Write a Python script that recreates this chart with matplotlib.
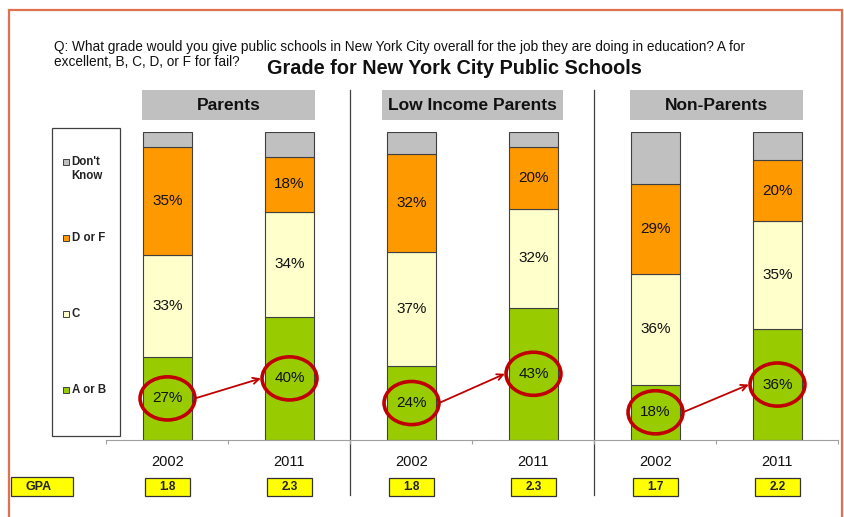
import matplotlib
matplotlib.use("Agg")
import matplotlib.pyplot as plt
from matplotlib.patches import Rectangle, Ellipse
import numpy as np

plt.rcParams['font.family'] = ['Liberation Sans', 'DejaVu Sans']

# ---- data ----
groups = ["Parents", "Low Income Parents", "Non-Parents"]
years = ["2002", "2011", "2002", "2011", "2002", "2011"]
a_or_b = [27, 40, 24, 43, 18, 36]
c_grade = [33, 34, 37, 32, 36, 35]
d_or_f = [35, 18, 32, 20, 29, 20]
dont_know = [5, 8, 7, 5, 17, 9]
gpa = ["1.8", "2.3", "1.8", "2.3", "1.7", "2.2"]
legend_labels = ["Don't\nKnow", "D or F", "C", "A or B"]

question_lines = ["Q: What grade would you give public schools in New York City overall for the job they are doing in education? A for",
                  "excellent, B, C, D, or F for fail?"]
title = "Grade for New York City Public Schools"

col_ab = "#99CC00"
col_c = "#FFFFCC"
col_df = "#FF9900"
col_dk = "#C0C0C0"
ring = "#C00000"

W, H = 845, 517
fig = plt.figure(figsize=(W / 100, H / 100), dpi=100)

def fx(px):
    return px / W

def fy(py):
    return 1 - py / H

# plot area in pixel terms
ax_left, ax_right, ax_bot, ax_top = 106.5, 838.5, 440, 132
ax = fig.add_axes([fx(ax_left), fy(ax_bot), fx(ax_right - ax_left), (ax_bot - ax_top) / H])
ax.set_xlim(-0.5, 5.5)
ax.set_ylim(0, 100)
for s in ["left", "right", "top"]:
    ax.spines[s].set_visible(False)
ax.spines["bottom"].set_color("#A0A0A0")
ax.spines["bottom"].set_linewidth(0.8)
ax.set_yticks([])
ax.set_xticks(np.arange(-0.5, 6.0, 1.0))
ax.set_xticklabels([])
ax.tick_params(axis="x", direction="out", length=3, color="#A0A0A0", width=0.8)

x = np.arange(len(years))
bw = 0.40
edge = dict(edgecolor="#404040", linewidth=0.8)
b0 = np.zeros(len(years))
stacks = [(a_or_b, col_ab), (c_grade, col_c), (d_or_f, col_df), (dont_know, col_dk)]
for vals, col in stacks:
    ax.bar(x, vals, bw, bottom=b0, color=col, **edge, zorder=2)
    b0 = b0 + np.array(vals)

# value labels (not on the Don't Know segment)
bottom = np.zeros(len(years))
for vals in [a_or_b, c_grade, d_or_f]:
    for i, v in enumerate(vals):
        ax.text(x[i], bottom[i] + v / 2, f"{v}%", ha="center", va="center",
                fontsize=11, color="#111111", zorder=5)
    bottom = bottom + np.array(vals)

# red rings around the A-or-B share and the change arrow
ew, eh = 0.45, 14.0
for i in range(len(years)):
    ax.add_patch(Ellipse((x[i], a_or_b[i] / 2), ew, eh, fill=False,
                         edgecolor=ring, linewidth=2.6, zorder=6, clip_on=False))
for g in range(len(groups)):
    i0, i1 = 2 * g, 2 * g + 1
    ax.annotate("", xy=(x[i1] - ew / 2 - 0.01, a_or_b[i1] / 2),
                xytext=(x[i0] + ew / 2, a_or_b[i0] / 2),
                arrowprops=dict(arrowstyle="->", color=ring, lw=1.3,
                                shrinkA=0, shrinkB=0, mutation_scale=11),
                zorder=6)

# pixel-y to data-y helper for annotations outside the plot
def dy(py):
    return (ax_bot - py) / (ax_bot - ax_top) * 100

# year labels and GPA boxes
for i in range(len(years)):
    ax.text(x[i], dy(462), years[i], ha="center", va="center", fontsize=10.5,
            color="#111111", clip_on=False)
    ax.add_patch(Rectangle((x[i] - 22.5 / 122, dy(496)), 45 / 122, dy(478) - dy(496),
                           facecolor="#FFFF00", edgecolor="#333333", linewidth=0.9,
                           clip_on=False, zorder=3))
    ax.text(x[i], dy(487), gpa[i], ha="center", va="center", fontsize=8.5,
            fontweight="bold", color="#222222", clip_on=False, zorder=4)

# row label box for GPA
fig.patches.append(Rectangle((fx(11), fy(496)), fx(73 - 11), (496 - 477) / H,
                             transform=fig.transFigure, facecolor="#FFFF00",
                             edgecolor="#333333", linewidth=0.9))
fig.text(fx(39), fy(486.5), "GPA", ha="center", va="center", fontsize=9,
         fontweight="bold", color="#222222")

# group headers
pads = [1.5, 5.0, 1.5]
for g, name in enumerate(groups):
    i0, i1 = 2 * g, 2 * g + 1
    left = x[i0] - bw / 2 - pads[g] / 122
    right = x[i1] + bw / 2 + pads[g] / 122
    ax.add_patch(Rectangle((left, dy(120)), right - left, dy(90) - dy(120),
                           facecolor="#C0C0C0", edgecolor="none", clip_on=False, zorder=1))
    ax.text((left + right) / 2, dy(105), name, ha="center", va="center",
            fontsize=12.5, fontweight="bold", color="#111111", clip_on=False, zorder=2)

# group separators
for sx in [1.5, 3.5]:
    ax.plot([sx, sx], [dy(90), dy(495)], color="#404040", linewidth=0.9,
            clip_on=False, zorder=1)

# legend box
fig.patches.append(Rectangle((fx(52), fy(436)), fx(120 - 52), (436 - 128) / H,
                             transform=fig.transFigure, facecolor="white",
                             edgecolor="#404040", linewidth=0.9))
leg_y = [162, 238, 314, 390]
leg_cols = [col_dk, col_df, col_c, col_ab]
for lab, ly, lc in zip(legend_labels, leg_y, leg_cols):
    fig.patches.append(Rectangle((fx(63), fy(ly + 3)), fx(6), 6 / H,
                                 transform=fig.transFigure, facecolor=lc,
                                 edgecolor="#404040", linewidth=0.7))
    fig.text(fx(71.5), fy(ly - 6), lab, ha="left", va="top", fontsize=8.3,
             fontweight="bold", color="#222222", linespacing=1.2)

# question text, sized so the first line spans ~690 px
renderer = fig.canvas.get_renderer()
q_texts = []
for k, line in enumerate(question_lines):
    t = fig.text(fx(54), fy(47 + 15.5 * k), line, ha="left", va="center",
                 fontsize=9, color="#111111")
    q_texts.append(t)
w0 = q_texts[0].get_window_extent(renderer).width
qsize = 9 * 690 / w0
for t in q_texts:
    t.set_fontsize(qsize)

fig.text(fx(454), fy(69), title, ha="center", va="center", fontsize=14.3,
         fontweight="bold", color="#111111")

# outer frame
fig.patches.append(Rectangle((fx(9.5), fy(530)), fx(842 - 9.5), (530 - 9.5) / H,
                             transform=fig.transFigure, fill=False,
                             edgecolor="#E2704E", linewidth=1.6, clip_on=False))

fig.savefig("out.png", dpi=100)
